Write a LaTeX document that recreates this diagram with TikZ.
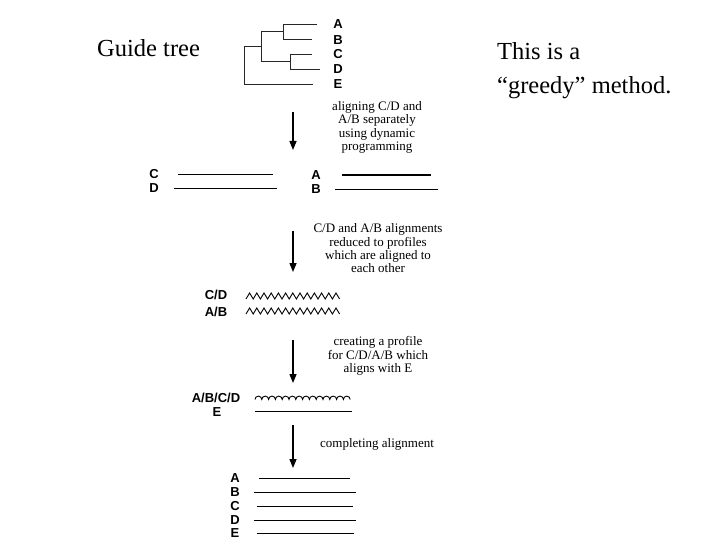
\documentclass[tikz,border=0pt]{standalone}
\usepackage{fontspec}
\setmainfont{Liberation Serif}
\newfontfamily\labfont{Liberation Sans}
\usetikzlibrary{arrows.meta}
\begin{document}
\begin{tikzpicture}[x=1pt,y=-1pt,
  lab/.style={font=\labfont\bfseries\fontsize{13}{13}\selectfont, inner sep=0pt, text height=9.3pt, text depth=0pt},
  note/.style={font=\fontsize{13}{13.3}\selectfont, align=center, inner sep=0pt},
  big/.style={font=\fontsize{24.5}{34}\selectfont, inner sep=0pt, align=left},
  seq/.style={line width=0.9pt},
  thickseq/.style={line width=2pt},
  branch/.style={line width=0.9pt, draw=black!85},
  flow/.style={line width=1.4pt, -{Triangle[length=9pt,width=7pt]}},
]
\useasboundingbox[fill=white] (0,0) rectangle (720,540);

% big texts
\node[big, anchor=base west] (guide) at (97,57) {Guide tree};
\node[big, anchor=base west] (greedy) at (497,94) {This is a\\“greedy” method.};

% guide tree
\coordinate (ta) at (317,24);
\coordinate (tb) at (312,39.5);
\coordinate (tc) at (312,54);
\coordinate (td) at (320,69);
\coordinate (te) at (313,84);
\draw[branch] (ta) -- (283,24) -- (283,39.5) -- (tb);
\draw[branch] (tc) -- (290,54) -- (290,69) -- (td);
\draw[branch] (283,31.75) -- (261,31.75) -- (261,61.5) -- (290,61.5);
\draw[branch] (261,46.6) -- (244,46.6) -- (244,84) -- (te);
\node[lab] (la) at (338,24) {A};
\node[lab] (lb) at (338,39.5) {B};
\node[lab] (lc) at (338,54) {C};
\node[lab] (ld) at (338,69) {D};
\node[lab] (le) at (338,84) {E};

% step 1
\coordinate (a1s) at (293,112);
\coordinate (a1e) at (293,150);
\draw[flow] (a1s) -- (a1e);
\node[note] (n1) at (377,127.5) {aligning C/D and\\A/B separately\\using dynamic\\programming};

% pairwise alignments
\node[lab] (pc) at (154,174) {C};
\node[lab] (pd) at (154,188) {D};
\draw[seq] (178,174) -- (273,174);
\draw[seq] (174,188) -- (277,188);
\node[lab] (pa) at (316,175) {A};
\node[lab] (pb) at (316,189) {B};
\draw[thickseq] (342,175) -- (431,175);
\draw[seq] (335,189) -- (438,189);

% step 2
\coordinate (a2s) at (293,231);
\coordinate (a2e) at (293,272);
\draw[flow] (a2s) -- (a2e);
\node[note] (n2) at (378,248.5) {C/D and A/B alignments\\reduced to profiles\\which are aligned to\\each other};

% profiles
\node[lab] (qcd) at (216,295) {C/D};
\node[lab] (qab) at (216,312) {A/B};
\draw[seq, line join=miter] (246,299) \foreach \i in {1,...,13} { -- ++(3.6,-6) -- ++(3.6,6) };
\draw[seq, line join=miter] (246,314) \foreach \i in {1,...,13} { -- ++(3.6,-6) -- ++(3.6,6) };

% step 3
\coordinate (a3s) at (293,340);
\coordinate (a3e) at (293,383);
\draw[flow] (a3s) -- (a3e);
\node[note] (n3) at (378,356) {creating a profile\\for C/D/A/B which\\aligns with E};

% profile vs E
\node[lab] (rabcd) at (216,398) {A/B/C/D};
\node[lab] (re) at (217,412) {E};
\draw[seq] (255,399.5) \foreach \i in {1,...,14} { arc[start angle=180, end angle=360, radius=3.4] };
\draw[seq] (255,411) -- (352,411);

% step 4
\coordinate (a4s) at (293,425);
\coordinate (a4e) at (293,468);
\draw[flow] (a4s) -- (a4e);
\node[note] (n4) at (377,444) {completing alignment};

% final alignment
\node[lab] (fa) at (235,478) {A};
\node[lab] (fb) at (235,492) {B};
\node[lab] (fc) at (235,506) {C};
\node[lab] (fd) at (235,520) {D};
\node[lab] (fe) at (235,533) {E};
\draw[seq] (259,478) -- (350,478);
\draw[seq] (254,492) -- (356,492);
\draw[seq] (257,506) -- (353,506);
\draw[seq] (254,520) -- (356,520);
\draw[seq] (257,533.5) -- (354,533.5);
\end{tikzpicture}
\end{document}
